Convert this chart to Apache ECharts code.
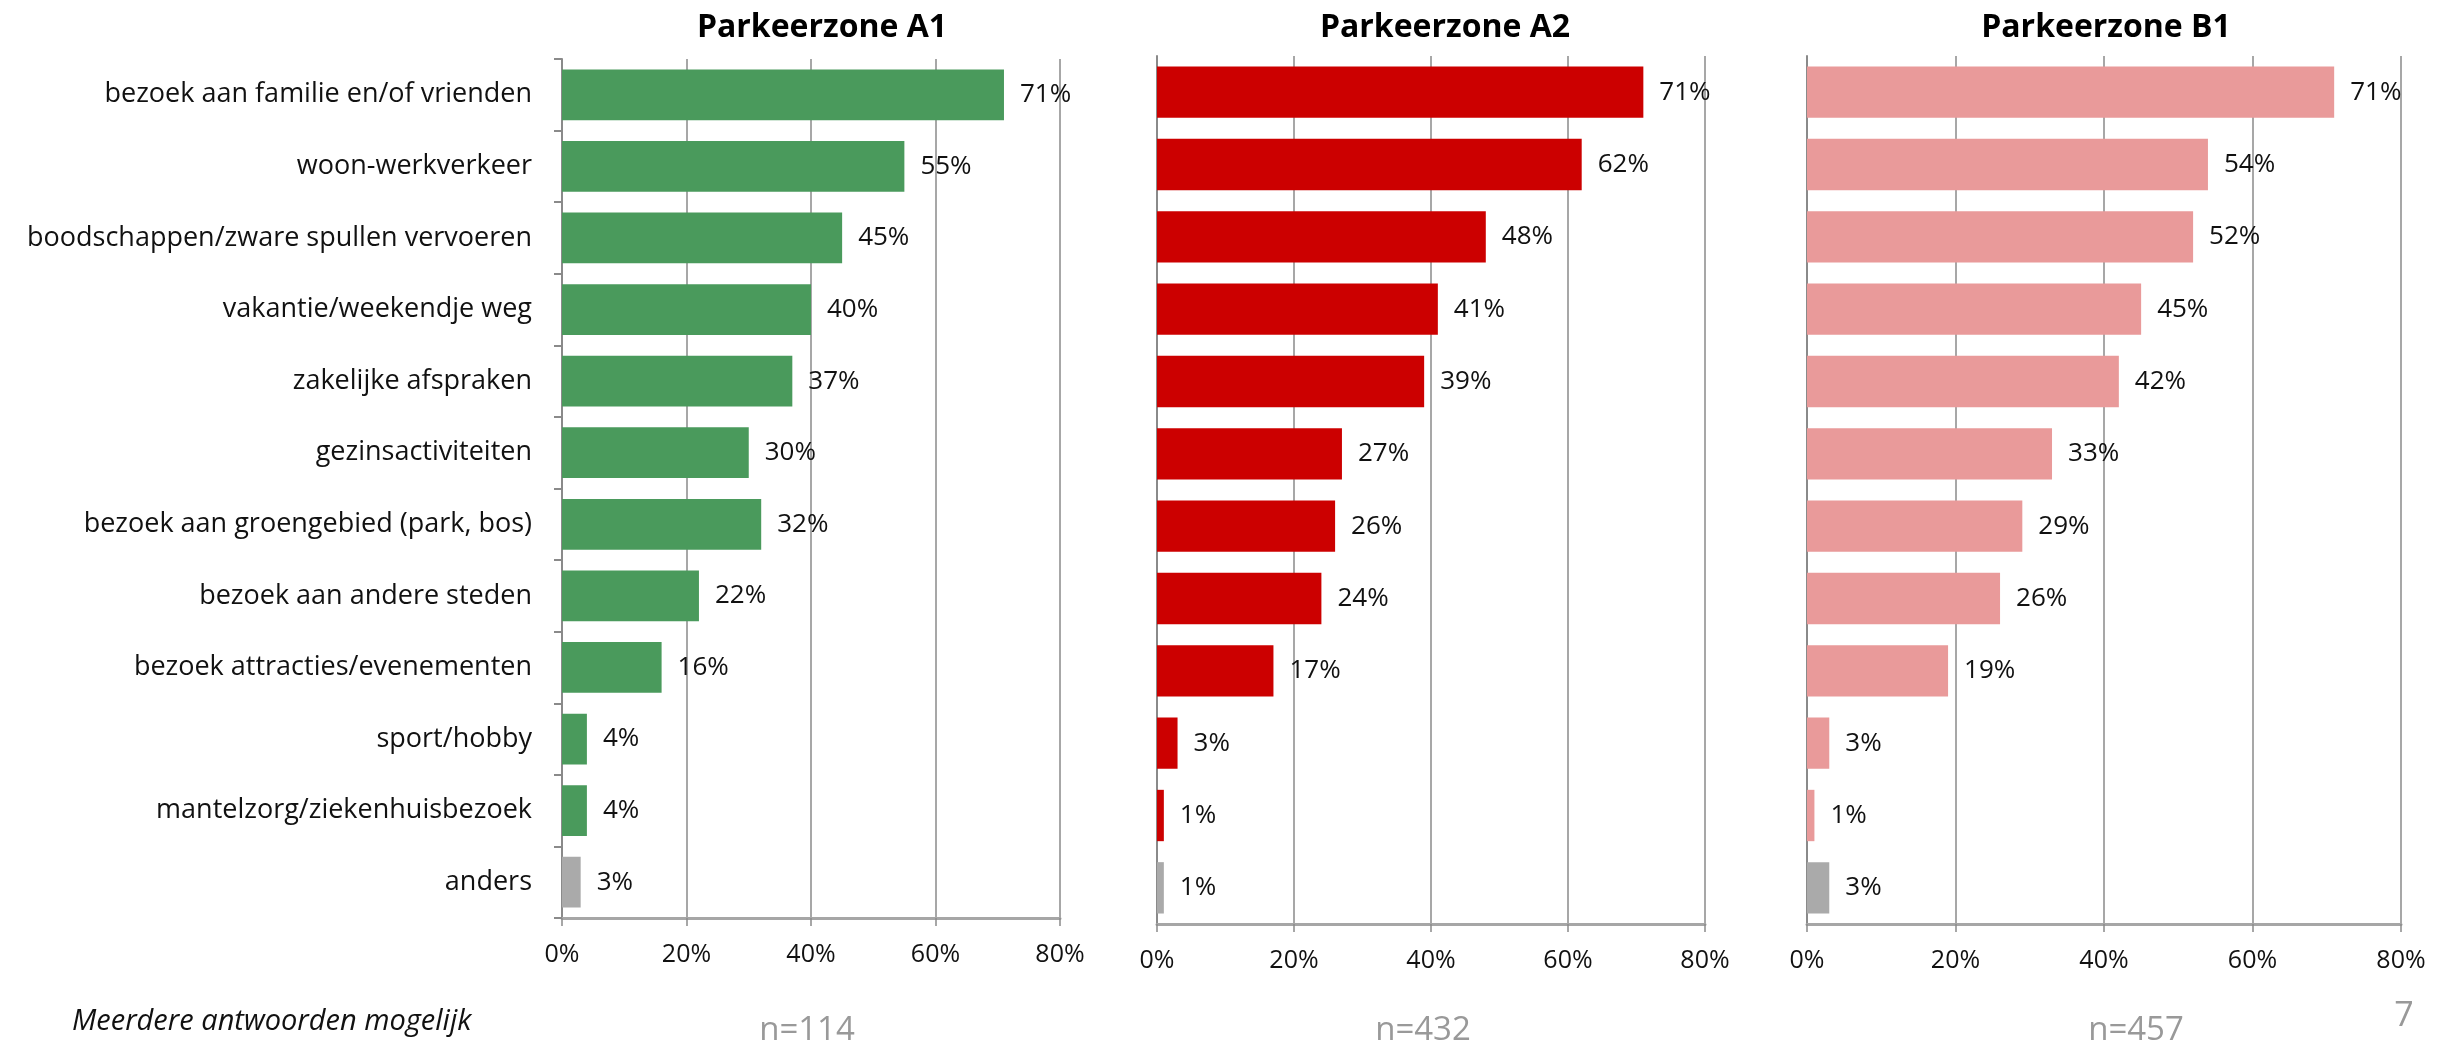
<!DOCTYPE html>
<html>
<head>
<meta charset="utf-8">
<title>Parkeerzones - redenen autogebruik</title>
<script src="https://cdn.jsdelivr.net/npm/echarts@6/dist/echarts.min.js"></script>
<style>
  html, body { margin: 0; padding: 0; background: #fff; }
  #chart { width: 2460px; height: 1046px; }
</style>
</head>
<body>
<div id="chart"></div>
<script>
  const categories = [
    'bezoek aan familie en/of vrienden',
    'woon-werkverkeer',
    'boodschappen/zware spullen vervoeren',
    'vakantie/weekendje weg',
    'zakelijke afspraken',
    'gezinsactiviteiten',
    'bezoek aan groengebied (park, bos)',
    'bezoek aan andere steden',
    'bezoek attracties/evenementen',
    'sport/hobby',
    'mantelzorg/ziekenhuisbezoek',
    'anders'
  ]
  const zoneA1 = [71, 55, 45, 40, 37, 30, 32, 22, 16, 4, 4, 3]
  const zoneA2 = [71, 62, 48, 41, 39, 27, 26, 24, 17, 3, 1, 1]
  const zoneB1 = [71, 54, 52, 45, 42, 33, 29, 26, 19, 3, 1, 3]
  const zoneTitles = ['Parkeerzone A1', 'Parkeerzone A2', 'Parkeerzone B1']
  const sampleSizes = ['n=114', 'n=432', 'n=457']
  const footnote = 'Meerdere antwoorden mogelijk'
  const pageNumber = '7'

  const FONT = "'Open Sans', 'Noto Sans', sans-serif"
  const zoneColors = ['#4a9a5c', '#cc0000', '#e99a9a']
  const otherColor = '#aaaaaa'

  const grids = [
    {left: 562, top: 59, width: 498, height: 859},
    {left: 1157, top: 56, width: 548, height: 868},
    {left: 1807, top: 56, width: 594, height: 868}
  ]
  const titleX = [822, 1445, 2106]
  const sampleX = [807, 1423, 2136]
  const zones = [zoneA1, zoneA2, zoneB1]

  let chart = echarts.init(document.getElementById('chart'))

  let xAxes = grids.map((g, i) => ({
    gridIndex: i,
    type: 'value',
    min: 0,
    max: 80,
    interval: 20,
    axisLabel: {formatter: '{value}%', fontSize: 25, color: '#111', fontFamily: FONT, margin: 24},
    axisLine: {show: true, lineStyle: {color: '#a6a6a6', width: 3}},
    axisTick: {show: true, length: 8, lineStyle: {color: '#8a8a8a', width: 1.5}},
    splitLine: {show: true, lineStyle: {color: '#8a8a8a', width: 1.5}}
  }))

  let yAxes = grids.map((g, i) => ({
    gridIndex: i,
    type: 'category',
    inverse: true,
    data: categories,
    axisLine: {show: true, lineStyle: {color: '#8a8a8a', width: 2}},
    axisTick: {show: i === 0, length: 8, lineStyle: {color: '#8a8a8a', width: 2}},
    axisLabel: {show: i === 0, fontSize: 27, color: '#111', fontFamily: FONT, margin: 30}
  }))

  let series = zones.map((values, i) => ({
    type: 'bar',
    xAxisIndex: i,
    yAxisIndex: i,
    data: values,
    barCategoryGap: '29%',
    itemStyle: {
      color: (p) => p.dataIndex === categories.length - 1 ? otherColor : zoneColors[i]
    },
    label: {
      show: true,
      position: 'right',
      distance: 16,
      formatter: '{c}%',
      fontSize: 26,
      color: '#111',
      fontFamily: FONT
    },
    silent: true
  }))

  let texts = []
  zoneTitles.forEach((t, i) => {
    texts.push({
      type: 'text', x: titleX[i], y: 28,
      style: {text: t, font: 'bold 32px ' + FONT, fill: '#000', align: 'center', verticalAlign: 'middle'}
    })
    texts.push({
      type: 'text', x: sampleX[i], y: 1031,
      style: {text: sampleSizes[i], font: '33px ' + FONT, fill: '#999', align: 'center', verticalAlign: 'middle'}
    })
  })
  texts.push({
    type: 'text', x: 72, y: 1022,
    style: {text: footnote, font: 'italic 29px ' + FONT, fill: '#111', align: 'left', verticalAlign: 'middle'}
  })
  texts.push({
    type: 'text', x: 2404, y: 1016,
    style: {text: pageNumber, font: '34px ' + FONT, fill: '#999', align: 'center', verticalAlign: 'middle'}
  })

  let option = {
    backgroundColor: '#fff',
    animation: false,
    grid: grids,
    xAxis: xAxes,
    yAxis: yAxes,
    series: series,
    graphic: texts
  }
  chart.setOption(option)
</script>
</body>
</html>
